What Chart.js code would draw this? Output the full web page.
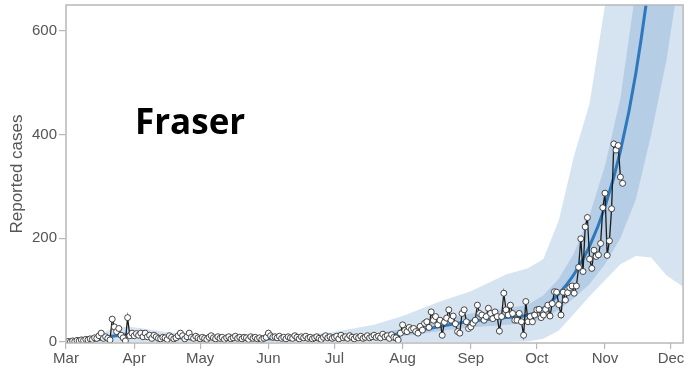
<!DOCTYPE html>
<html>
<head>
<meta charset="utf-8">
<script src="https://cdn.jsdelivr.net/npm/chart.js@4/dist/chart.umd.min.js"></script>
<style>
    body { margin: 0; background: #fff; }
    #wrap { position: relative; width: 688px; height: 369px; }
    #region {
        position: absolute; left: 135px; top: 103px;
        font: bold 35px/1 "Open Sans", "Noto Sans", sans-serif;
        color: #000;
    }
</style>
</head>
<body>
<div id="wrap">
    <canvas id="chart" width="688" height="369"></canvas>
    <div id="region">Fraser</div>
</div>
<script>
// days are counted from 1 March
const monthStarts = [0, 31, 61, 92, 122, 153, 184, 214, 245, 275];
const monthLabels = ["Mar", "Apr", "May", "Jun", "Jul", "Aug", "Sep", "Oct", "Nov", "Dec"];
const yTicks = [0, 200, 400, 600];

// daily reported cases, one value per day starting 1 March
const reportedCases = [
    0, 1, 0, 2, 1, 3, 2, 4, 3, 5,
    4, 6, 5, 8, 7, 12, 17, 7, 10, 7,
    4, 44, 29, 20, 26, 13, 8, 2, 47, 12,
    17, 12, 16, 13, 17, 10, 17, 10, 13, 7,
    13, 10, 7, 6, 9, 8, 5, 12, 9, 6,
    8, 12, 17, 12, 6, 10, 17, 9, 7, 11,
    8, 6, 9, 7, 5, 9, 12, 8, 6, 10,
    7, 9, 5, 8, 10, 6, 8, 11, 7, 9,
    6, 9, 8, 5, 10, 7, 9, 6, 8, 5,
    7, 9, 17, 12, 9, 10, 8, 11, 7, 9,
    6, 10, 8, 7, 12, 9, 6, 10, 8, 11,
    7, 9, 6, 8, 10, 7, 5, 9, 12, 8,
    10, 7, 9, 11, 6, 13, 8, 10, 7, 12,
    9, 6, 10, 8, 11, 7, 9, 12, 8, 10,
    13, 9, 11, 8, 15, 10, 12, 7, 14, 9,
    8, 4, 17, 33, 22, 20, 28, 24, 26, 20,
    17, 30, 23, 36, 39, 28, 58, 42, 49, 33,
    42, 13, 38, 46, 62, 42, 50, 35, 20, 17,
    55, 62, 39, 26, 29, 36, 42, 71, 55, 52,
    42, 49, 65, 55, 45, 58, 49, 21, 49, 94,
    62, 52, 71, 55, 42, 42, 55, 39, 13, 78,
    39, 49, 39, 52, 62, 63, 47, 52, 63, 71,
    50, 74, 97, 96, 72, 52, 96, 81, 95, 105,
    108, 94, 108, 144, 199, 136, 222, 240, 160, 142,
    177, 165, 168, 190, 259, 287, 167, 195, 257, 382,
    370, 379, 318, 306
];

// model projection: median and two uncertainty bands
const modelDays = [0, 14, 21, 28, 35, 45, 60, 80, 100, 120, 140, 153, 170, 184, 200, 210, 217, 224, 231, 238, 245, 252, 259, 266, 273, 280, 284];
const meanCases = [1, 4, 11, 14, 12, 9, 7, 6, 6, 7, 9, 17, 30, 40, 47, 52, 65, 93, 131, 185, 261, 368, 518, 730, 1025, 1440, 1750];
const innerHigh = [2, 7, 16, 20, 17, 13, 10, 9, 9, 11, 15, 26, 42, 55, 64, 72, 90, 122, 172, 245, 340, 470, 680, 960, 1350, 1900, 2300];
const innerLow = [0, 2, 7, 9, 8, 6, 4, 3, 3, 4, 5, 11, 21, 28, 33, 37, 44, 62, 85, 112, 150, 200, 275, 400, 545, 740, 880];
const outerHigh = [4, 14, 25, 30, 26, 19, 14, 12, 12, 18, 33, 50, 78, 98, 130, 142, 160, 235, 360, 460, 650, 900, 1250, 1700, 2300, 3000, 3500];
const outerLow = [0, 0, 0, 0, 0, 0, 0, 0, 0, 0, 0, 0, 0, 0, 0, 1, 6, 22, 55, 88, 119, 150, 166, 163, 128, 108, 104];

const toPoints = (days, vals) => vals.map((v, i) => ({ x: days[i], y: v }));
const caseDays = reportedCases.map((_, i) => i);

const frame = {
    id: "frame",
    afterDatasetsDraw(chart) {
        const { ctx, chartArea: a } = chart;
        ctx.save();
        ctx.strokeStyle = "#b8b8b8";
        ctx.lineWidth = 1.5;
        ctx.strokeRect(a.left, a.top, a.right - a.left, a.bottom - a.top);
        ctx.restore();
    }
};

const bandStyle = { pointRadius: 0, borderWidth: 0, tension: 0 };

new Chart(document.getElementById("chart"), {
    type: "line",
    data: {
        datasets: [
            {
                data: toPoints(caseDays, reportedCases),
                borderColor: "#1c1c1c",
                borderWidth: 1.3,
                pointRadius: 3,
                pointBorderWidth: 0.9,
                pointBackgroundColor: "#fff",
                pointBorderColor: "#333",
                fill: false,
                order: 0
            },
            {
                data: toPoints(modelDays, meanCases),
                borderColor: "#2e78bd",
                borderWidth: 3,
                pointRadius: 0,
                cubicInterpolationMode: "monotone",
                fill: false,
                order: 1
            },
            { ...bandStyle, data: toPoints(modelDays, innerHigh), backgroundColor: "#b5cde5", fill: "+1", order: 2 },
            { ...bandStyle, data: toPoints(modelDays, innerLow), fill: false, order: 2 },
            { ...bandStyle, data: toPoints(modelDays, outerHigh), backgroundColor: "#d6e4f1", fill: "+1", order: 3 },
            { ...bandStyle, data: toPoints(modelDays, outerLow), fill: false, order: 3 }
        ]
    },
    options: {
        responsive: false,
        animation: false,
        layout: { padding: { top: 5, right: 3, left: 0, bottom: 0 } },
        plugins: { legend: { display: false }, tooltip: { enabled: false } },
        scales: {
            x: {
                type: "linear",
                min: 0,
                max: 280.5,
                afterBuildTicks: s => { s.ticks = monthStarts.map(v => ({ value: v })); },
                afterFit: s => { s.height = 26; },
                ticks: {
                    autoSkip: false,
                    maxRotation: 0,
                    padding: 1,
                    color: "#555",
                    font: { family: "'Liberation Sans', Arial, sans-serif", size: 15 },
                    callback: v => monthLabels[monthStarts.indexOf(v)]
                },
                grid: { drawOnChartArea: false, drawTicks: true, tickLength: 6, color: "#b8b8b8", lineWidth: 1.2 },
                border: { display: false }
            },
            y: {
                min: -2,
                max: 650,
                afterBuildTicks: s => { s.ticks = yTicks.map(v => ({ value: v })); },
                afterFit: s => { s.width = 66; s.paddingTop = 0; s.paddingBottom = 0; },
                ticks: {
                    padding: 2,
                    color: "#555",
                    font: { family: "'Liberation Sans', Arial, sans-serif", size: 15 }
                },
                grid: { drawOnChartArea: false, drawTicks: true, tickLength: 7, color: "#b8b8b8", lineWidth: 1.2 },
                border: { display: false },
                title: {
                    display: true,
                    text: "Reported cases",
                    color: "#555",
                    padding: { top: 7, bottom: 0 },
                    font: { family: "'Liberation Sans', Arial, sans-serif", size: 17 }
                }
            }
        }
    },
    plugins: [frame]
});
</script>
</body>
</html>
